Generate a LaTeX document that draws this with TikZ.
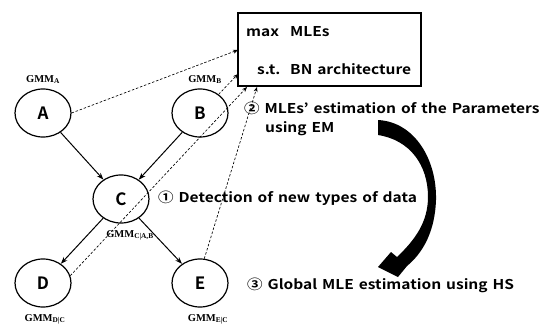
\documentclass[tikz,border=0pt]{standalone}
\usepackage{fontspec}
\setmainfont{Noto Sans CJK KR}[BoldFont={Noto Sans CJK KR Bold}]
\newfontfamily\widefont{Noto Sans CJK KR Bold}[FakeStretch=1.15,WordSpace=1.4]
\newfontfamily\gmmfont{Liberation Serif}
\usetikzlibrary{shapes.geometric,arrows.meta}
\begin{document}
\begin{tikzpicture}[x=1pt,y=-1pt,
  var/.style={ellipse,draw,line width=1.2pt,minimum width=56pt,minimum height=48pt,inner sep=0pt,font=\fontsize{17}{17}\selectfont\bfseries},
  gmm/.style={inner sep=0pt,anchor=base,font=\gmmfont\fontsize{10.5}{11}\selectfont\bfseries},
  txt/.style={inner sep=0pt,anchor=base west,font=\widefont\fontsize{13.5}{15}\selectfont},
  edge/.style={line width=1pt,-{Stealth[length=7pt,width=5pt]}},
  dep/.style={line width=0.65pt,dash pattern=on 2.5pt off 1.8pt,-{Stealth[length=5pt,width=4pt]}}]
\useasboundingbox (0,0) rectangle (542,327);

% Bayesian network nodes
\node[var] (A) at (43,113) {A};
\node[var] (B) at (200,113) {B};
\node[var] (C) at (121,199) {C};
\node[var] (D) at (43,283) {D};
\node[var] (E) at (200,283) {E};

% mixture model labels
\node[gmm] (gA) at (43,82) {GMM\textsubscript{A}};
\node[gmm] (gB) at (205,82) {GMM\textsubscript{B}};
\node[gmm] (gC) at (130,237) {GMM\textsubscript{C|A,B}};
\node[gmm] (gD) at (45,321) {GMM\textsubscript{D|C}};
\node[gmm] (gE) at (208,321) {GMM\textsubscript{E|C}};

% network edges
\draw[edge] (A) -- (C);
\draw[edge] (B) -- (C);
\draw[edge] (C) -- (D);
\draw[edge] (C) -- (E);

% optimisation box
\node[draw,line width=1.3pt,minimum width=183pt,minimum height=73pt,inner sep=0pt] (box) at (329.5,49.5) {};
\node[txt] (max) at (246,36) {max};
\node[txt] (obj) at (290,36) {MLEs};
\node[txt] (st) at (257,74) {s.t.};
\node[txt] (con) at (290,74) {BN architecture};

% parameter links to the box
\coordinate (inA) at (238,50);
\coordinate (inB) at (238,74);
\coordinate (inD) at (247,87);
\coordinate (inE) at (257,87);
\draw[dep] (A.east) -- (inA);
\draw[dep] (B.45) -- (inB);
\draw[dep] (D.15) -- (inD);
\draw[dep] (E.80) -- (inE);

% step descriptions
\node[txt] (s2) at (244,113) {② MLEs’ estimation of the Parameters};
\node[txt] (s2b) at (265,132) {using EM};
\node[txt] (s1) at (158,202) {① Detection of new types of data};
\node[txt] (s3) at (247,289) {③ Global MLE estimation using HS};

% curved process arrow
\fill (378,120) .. controls (415,122) and (437,160) .. (436,200)
  .. controls (435,230) and (424,252) .. (407,266) -- (398,277) -- (378,267)
  -- (391,252) -- (397,257) .. controls (415,240) and (428,222) .. (428,197)
  .. controls (428,165) and (410,140) .. (378,135) -- cycle;
\end{tikzpicture}
\end{document}
